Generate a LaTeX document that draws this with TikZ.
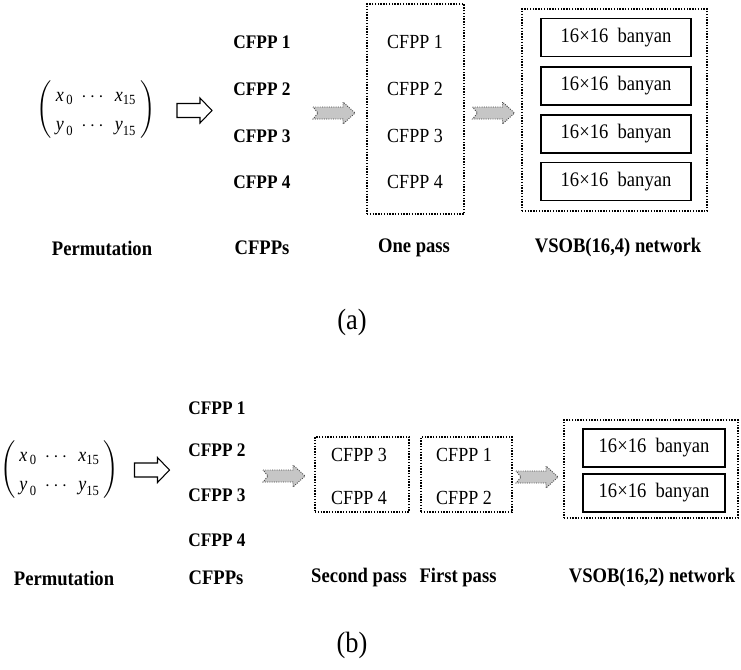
\documentclass[tikz,border=0pt]{standalone}
\usepackage{amsmath}
\usepackage{fontspec}
\setmainfont{Liberation Serif}[FakeStretch=0.9]
\usetikzlibrary{arrows.meta,positioning}

\begin{document}
\begin{tikzpicture}[
    x=0.75pt, y=-0.75pt,
    cfpp/.style={font=\fontsize{14.4}{17}\selectfont\bfseries},
    inpass/.style={font=\fontsize{15}{18}\selectfont},
    caption/.style={font=\fontsize{15.5}{18}\selectfont\bfseries},
    banyan/.style={draw, line width=0.9pt, minimum height=28.5pt, inner sep=0pt, font=\fontsize{15.5}{18}\selectfont},
    passbox/.style={draw, densely dotted, line width=1.1pt, inner sep=0pt},
    perm/.style={font=\fontsize{15}{17}\selectfont},
    sublabel/.style={font=\fontsize{22}{26}\selectfont},
    hollowarrow/.pic={\draw[line width=0.8pt, fill=white] (-17.5,-7) -- (5.5,-7) -- (5.5,-12.5) -- (17.5,0) -- (5.5,12.5) -- (5.5,7) -- (-17.5,7) -- cycle;},
    passarrow/.pic={\draw[densely dotted, line width=0.7pt, draw=gray!55!black, fill=gray!45] (-21,-6) -- (9,-6) -- (9,-11) -- (21,0) -- (9,11) -- (9,6) -- (-21,6) -- (-16,0) -- cycle;}
  ]
    \useasboundingbox (0,0) rectangle (741,669);

    % (a) one pass
    \node[perm] (perma) at (96,110) {\renewcommand{\arraystretch}{1.3}\setlength{\arraycolsep}{3pt}$\left(\begin{array}{ccc} \textit{x}_{\,\text{0}} & \cdots & \textit{x}_{\text{15}}\\ \textit{y}_{\,\text{0}} & \cdots & \textit{y}_{\text{15}} \end{array}\right)$};
    \pic at (194.5,110.5) {hollowarrow};
    \node[cfpp] (ca1) at (262,42) {CFPP 1};
    \node[cfpp] (ca2) at (262,89) {CFPP 2};
    \node[cfpp] (ca3) at (262,136) {CFPP 3};
    \node[cfpp] (ca4) at (262,182) {CFPP 4};
    \pic at (334,113) {passarrow};

    \node[passbox, minimum width=72.75pt, minimum height=157.5pt] (onepass) at (415.5,109) {};
    \node[inpass] (oa1) at (415,42) {CFPP 1};
    \node[inpass] (oa2) at (415,89) {CFPP 2};
    \node[inpass] (oa3) at (415,136) {CFPP 3};
    \node[inpass] (oa4) at (415,182) {CFPP 4};
    \pic at (493.5,113) {passarrow};

    \node[passbox, minimum width=138.75pt, minimum height=151.5pt] (vsoba) at (614.5,110) {};
    \node[banyan, minimum width=112.5pt] (ba1) at (616,37.5) {16×16\ \ banyan};
    \node[banyan, minimum width=112.5pt] (ba2) at (616,86) {16×16\ \ banyan};
    \node[banyan, minimum width=112.5pt] (ba3) at (616,134) {16×16\ \ banyan};
    \node[banyan, minimum width=112.5pt] (ba4) at (616,181.5) {16×16\ \ banyan};

    \node[caption] (pa) at (102,248) {Permutation};
    \node[caption] (fa) at (262,248) {CFPPs};
    \node[caption] (oa) at (414,248) {One pass};
    \node[caption] (va) at (618,248) {VSOB(16,4) network};
    \node[sublabel] (suba) at (352,322) {(a)};

    % (b) two passes
    \node[perm] (permb) at (59.5,470) {\renewcommand{\arraystretch}{1.3}\setlength{\arraycolsep}{3pt}$\left(\begin{array}{ccc} \textit{x}_{\,\text{0}} & \cdots & \textit{x}_{\text{15}}\\ \textit{y}_{\,\text{0}} & \cdots & \textit{y}_{\text{15}} \end{array}\right)$};
    \pic at (152,470) {hollowarrow};
    \node[cfpp] (cb1) at (217,408) {CFPP 1};
    \node[cfpp] (cb2) at (217,450) {CFPP 2};
    \node[cfpp] (cb3) at (217,495) {CFPP 3};
    \node[cfpp] (cb4) at (217,540) {CFPP 4};
    \pic at (284,476) {passarrow};

    \node[passbox, minimum width=70.5pt, minimum height=56.25pt] (secpass) at (362,474.5) {};
    \node[inpass] (sb3) at (359,455) {CFPP 3};
    \node[inpass] (sb4) at (359,498) {CFPP 4};
    \node[passbox, minimum width=68.25pt, minimum height=56.25pt] (firstpass) at (466.5,474.5) {};
    \node[inpass] (fb1) at (464,455) {CFPP 1};
    \node[inpass] (fb2) at (464,498) {CFPP 2};
    \pic at (537,477) {passarrow};

    \node[passbox, minimum width=130.5pt, minimum height=73.5pt] (vsobb) at (651,469) {};
    \node[banyan, minimum width=106.5pt] (bb1) at (654,448) {16×16\ \ banyan};
    \node[banyan, minimum width=106.5pt] (bb2) at (654,493) {16×16\ \ banyan};

    \node[caption] (pb) at (64,578) {Permutation};
    \node[caption] (fb) at (216,578) {CFPPs};
    \node[caption] (sb) at (359,578) {Second pass};
    \node[caption] (ob) at (458,578) {First pass};
    \node[caption] (vb) at (652,578) {VSOB(16,2) network};
    \node[sublabel] (subb) at (352,645) {(b)};
  \end{tikzpicture}
\end{document}
